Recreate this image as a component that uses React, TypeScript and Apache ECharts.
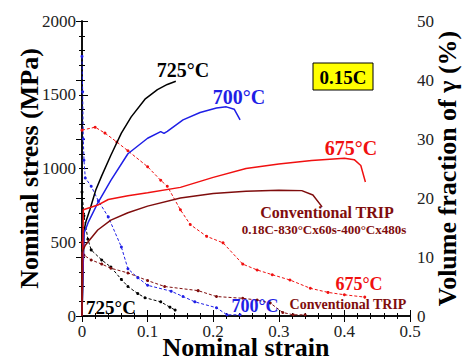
import React, { useEffect, useRef } from "react";
import * as echarts from "echarts";

// Stress-strain curves (strain, MPa) — left axis
const stress725: number[][] = [[0,0],[0.003,580],[0.006,640],[0.012,720],[0.021,854],[0.03,950],[0.044,1090],[0.06,1240],[0.075,1350],[0.096,1470],[0.115,1535],[0.13,1570],[0.143,1592]];
const stress700: number[][] = [[0,0],[0.003,560],[0.01,640],[0.024,766],[0.044,920],[0.07,1100],[0.1,1205],[0.12,1250],[0.125,1238],[0.13,1252],[0.154,1330],[0.18,1380],[0.205,1410],[0.22,1418],[0.232,1402],[0.241,1330]];
const stress675: number[][] = [[0,0],[0.002,720],[0.024,752],[0.04,790],[0.07,815],[0.1,835],[0.15,872],[0.2,940],[0.25,1000],[0.3,1030],[0.35,1055],[0.4,1070],[0.415,1060],[0.425,1020],[0.432,908]];
const stressConv: number[][] = [[0,0],[0,430],[0.005,480],[0.024,583],[0.044,650],[0.07,700],[0.1,745],[0.15,800],[0.2,830],[0.25,845],[0.3,853],[0.335,850],[0.352,820],[0.366,740]];

// Retained austenite volume fraction curves (strain, %) — right axis
const vf725: number[][] = [[0,21],[0.003,17],[0.009,13],[0.014,11.2],[0.03,9.5],[0.044,8.3],[0.06,6.2],[0.07,5],[0.085,3.8],[0.096,3.1],[0.12,2.4],[0.134,1.5],[0.142,1.0]];
const vf700: number[][] = [[0,44],[0.001,38],[0.002,30],[0.003,26.4],[0.005,23.4],[0.014,22],[0.025,19.5],[0.04,16.8],[0.06,11.7],[0.07,8],[0.085,6.5],[0.1,5.2],[0.136,4.2],[0.154,3.3],[0.172,2.4],[0.205,1.4],[0.221,0.2],[0.241,0.2]];
const vf675: number[][] = [[0,31.5],[0.02,32],[0.035,31],[0.053,29.5],[0.07,28],[0.1,25.3],[0.12,23],[0.13,22],[0.15,18],[0.165,15.5],[0.19,13.5],[0.215,12.4],[0.245,8.8],[0.267,7.8],[0.29,7],[0.317,6.1],[0.348,4.7],[0.375,4],[0.4,3.6],[0.431,3.2]];
const vfConv: number[][] = [[0,12.5],[0.003,10.3],[0.014,9.5],[0.03,8.8],[0.044,8.1],[0.07,7.3],[0.1,6],[0.126,5],[0.177,4.3],[0.205,3.3],[0.245,3],[0.267,2.7],[0.287,2.2],[0.306,0.6],[0.322,0.2],[0.34,0.2]];

const COLORS = { c725: "#000000", c700: "#1f1fe6", c675: "#f01010", conv: "#7f0d0d" };
const SERIF = "Liberation Serif";

export default function App() {
  const ref = useRef<HTMLDivElement>(null);
  useEffect(() => {
    if (!ref.current) return;
    const chart = echarts.init(ref.current, undefined, { renderer: "svg" });
    const solid = (name: string, data: number[][], color: string) => ({
      name, type: "line", data, xAxisIndex: 0, yAxisIndex: 0, showSymbol: false, symbol: "none",
      lineStyle: { color, width: 1.5 }, itemStyle: { color }, z: 3,
    });
    const dotted = (name: string, data: number[][], color: string) => ({
      name, type: "line", data, xAxisIndex: 0, yAxisIndex: 1, symbol: "circle", symbolSize: 3,
      lineStyle: { color, width: 1, type: [3, 2] }, itemStyle: { color }, z: 2,
    });
    const axisCommon = {
      axisLine: { show: true, lineStyle: { color: "#000", width: 1.5 } },
      axisTick: { show: true, inside: true, length: 6, lineStyle: { color: "#000", width: 1 } },
      splitLine: { show: false },
    };
    const label = (margin: number) => ({
      fontFamily: SERIF, fontSize: 17, color: "#222", margin,
      formatter: (v: number) => String(v),
    });
    const nameStyle = { fontFamily: SERIF, fontWeight: "bold", fontSize: 26, color: "#000" };
    const txt = (text: string, x: number, y: number, size: number, color: string) => ({
      type: "text", x, y, z: 10,
      style: { text, fill: color, font: `bold ${size}px "${SERIF}"`, align: "center", verticalAlign: "middle" },
    });
    chart.setOption({
      animation: false,
      backgroundColor: "#fff",
      grid: { left: 82, right: 54, top: 21, bottom: 45, containLabel: false, outerBoundsMode: "none" },
      xAxis: [
        {
          type: "value", min: 0, max: 0.5, interval: 0.1, position: "bottom",
          name: "Nominal strain", nameLocation: "middle", nameGap: 18, nameMoveOverlap: false,
          nameTextStyle: nameStyle,
          axisLabel: label(7),
          minorTick: { show: true, splitNumber: 5, length: 3, lineStyle: { color: "#000" } },
          ...axisCommon,
        },
        {
          type: "value", min: 0, max: 0.5, interval: 0.1, position: "top",
          axisLabel: { show: false },
          minorTick: { show: true, splitNumber: 5, length: 3, lineStyle: { color: "#000" } },
          ...axisCommon,
        },
      ],
      yAxis: [
        {
          type: "value", min: 0, max: 2000, interval: 500, position: "left",
          name: "Nominal stress (MPa)", nameLocation: "middle", nameGap: 40, nameRotate: 90, nameMoveOverlap: false,
          nameTextStyle: nameStyle,
          axisLabel: label(6),
          minorTick: { show: true, splitNumber: 5, length: 3, lineStyle: { color: "#000" } },
          ...axisCommon,
        },
        {
          type: "value", min: 0, max: 50, interval: 10, position: "right",
          name: "Volume fraction of γ (%)", nameLocation: "middle", nameGap: 24, nameRotate: 90, nameMoveOverlap: false,
          nameTextStyle: nameStyle,
          axisLabel: label(7),
          minorTick: { show: true, splitNumber: 4, length: 3, lineStyle: { color: "#000" } },
          ...axisCommon,
        },
      ],
      series: [
        solid("725°C stress", stress725, COLORS.c725),
        solid("700°C stress", stress700, COLORS.c700),
        solid("675°C stress", stress675, COLORS.c675),
        solid("Conventional TRIP stress", stressConv, COLORS.conv),
        dotted("725°C γ", vf725, COLORS.c725),
        dotted("700°C γ", vf700, COLORS.c700),
        dotted("675°C γ", vf675, COLORS.c675),
        dotted("Conventional TRIP γ", vfConv, COLORS.conv),
      ],
      graphic: [
        { type: "rect", shape: { x: 313, y: 63, width: 60, height: 27 }, style: { fill: "#ffff00", stroke: "#000", lineWidth: 1 }, z: 9 },
        txt("0.15C", 343, 77, 19, "#000"),
        txt("725°C", 183, 70, 20, COLORS.c725),
        txt("700°C", 239, 97, 20, COLORS.c700),
        txt("675°C", 351, 148, 20, COLORS.c675),
        txt("Conventional TRIP", 327, 212, 16, COLORS.conv),
        txt("0.18C-830°Cx60s-400°Cx480s", 324, 229, 13, COLORS.conv),
        txt("675°C", 359, 284, 18, COLORS.c675),
        txt("725°C", 111, 307, 19, COLORS.c725),
        txt("700°C", 255, 306, 18, COLORS.c700),
        txt("Conventional TRIP", 348, 304, 14, COLORS.conv),
      ],
    });
    return () => chart.dispose();
  }, []);
  return <div ref={ref} style={{ position: "fixed", left: 0, top: 0, width: 464, height: 361 }} />;
}
